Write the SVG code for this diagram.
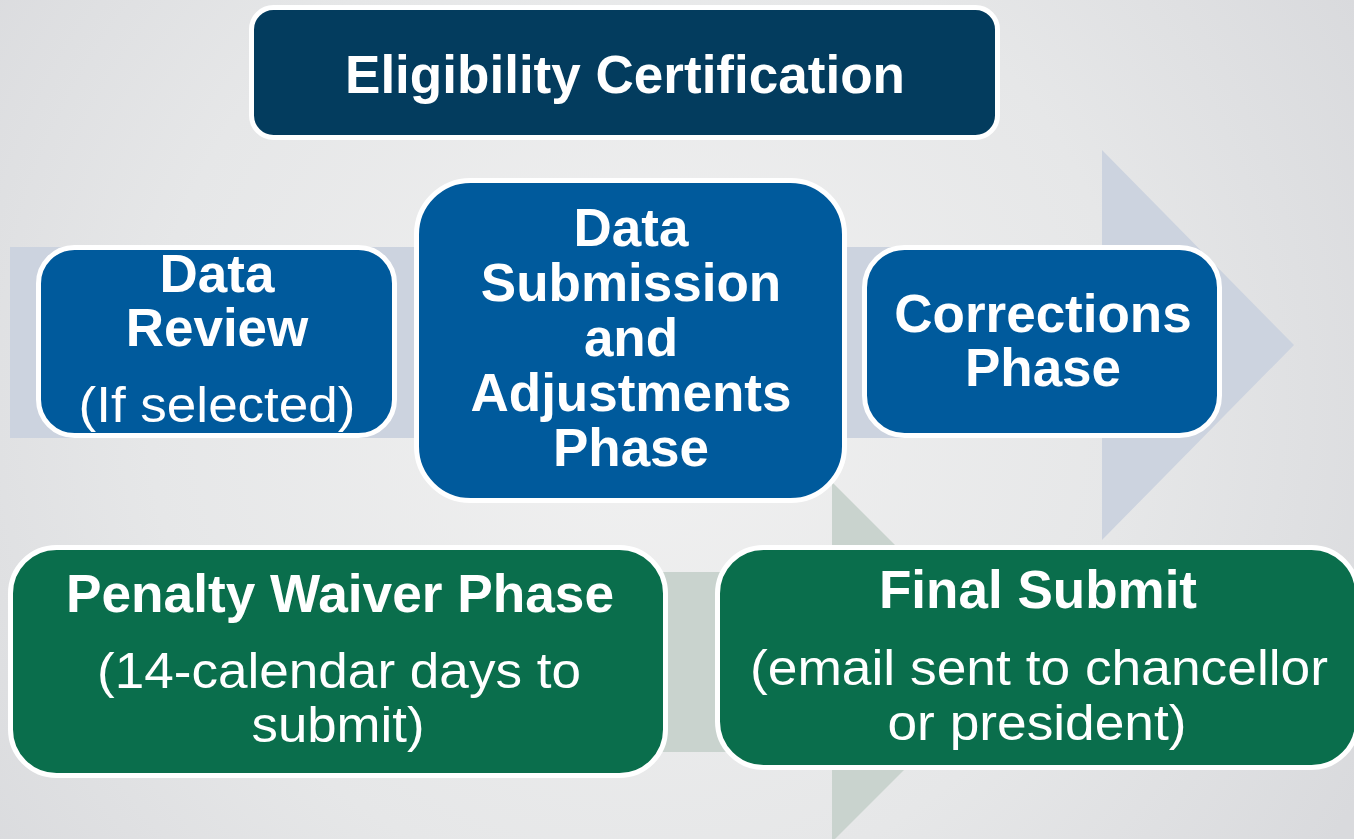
<svg xmlns="http://www.w3.org/2000/svg" width="1354" height="839" viewBox="0 0 1354 839">
  <defs>
    <radialGradient id="bg" cx="640" cy="400" r="820" gradientUnits="userSpaceOnUse">
      <stop offset="0" stop-color="#f1f1f1"/>
      <stop offset="0.6" stop-color="#e6e7e8"/>
      <stop offset="1" stop-color="#d9dadd"/>
    </radialGradient>
    <style>
      .box { stroke: #ffffff; stroke-width: 5; }
      .navy { fill: #033c5e; }
      .blue { fill: #005a9c; }
      .green { fill: #0a6e4c; }
      .t { fill: #ffffff; font-family: "Liberation Sans", Arial, sans-serif; text-anchor: middle; }
      .b { font-weight: bold; font-size: 53px; }
      .r { font-weight: normal; font-size: 50px; }
      .flowBlue { fill: #ccd3df; }
      .flowGreen { fill: #c9d3ce; }
    </style>
  </defs>

  <!-- backdrop -->
  <rect x="0" y="0" width="1354" height="839" fill="url(#bg)"/>

  <!-- flow arrows behind the phases -->
  <g id="connectors">
    <path class="flowBlue" d="M10 247 H1102 V150 L1294 345 L1102 540 V438 H10 Z"/>
    <path class="flowGreen" d="M20 572 H832 V482 L1012 662 L832 842 V752 H20 Z"/>
  </g>

  <g id="eligibility">
    <rect class="box navy" x="251.5" y="7.5" width="746" height="130" rx="22"/>
    <text class="t b" x="625" y="93" textLength="560" lengthAdjust="spacingAndGlyphs">Eligibility Certification</text>
  </g>

  <g id="data-review">
    <rect class="box blue" x="38.5" y="247.5" width="356" height="188" rx="36"/>
    <text class="t b" x="217" y="292">Data</text>
    <text class="t b" x="217" y="346">Review</text>
    <text class="t r" x="217" y="422" textLength="277" lengthAdjust="spacingAndGlyphs">(If selected)</text>
  </g>

  <g id="data-submission">
    <rect class="box blue" x="416.5" y="180.5" width="428" height="320" rx="54"/>
    <text class="t b" x="631" y="246">Data</text>
    <text class="t b" x="631" y="301">Submission</text>
    <text class="t b" x="631" y="356">and</text>
    <text class="t b" x="631" y="411">Adjustments</text>
    <text class="t b" x="631" y="466">Phase</text>
  </g>

  <g id="corrections">
    <rect class="box blue" x="864.5" y="247.5" width="355" height="188" rx="40"/>
    <text class="t b" x="1043" y="332">Corrections</text>
    <text class="t b" x="1043" y="386">Phase</text>
  </g>

  <g id="penalty-waiver">
    <rect class="box green" x="10.5" y="547.5" width="655" height="228" rx="46"/>
    <text class="t b" x="340" y="612" textLength="548" lengthAdjust="spacingAndGlyphs">Penalty Waiver Phase</text>
    <text class="t r" x="339" y="688" textLength="484" lengthAdjust="spacingAndGlyphs">(14-calendar days to</text>
    <text class="t r" x="338" y="742" textLength="173" lengthAdjust="spacingAndGlyphs">submit)</text>
  </g>

  <g id="final-submit">
    <rect class="box green" x="717.5" y="547.5" width="640" height="220" rx="46"/>
    <text class="t b" x="1038" y="608">Final Submit</text>
    <text class="t r" x="1039" y="685" textLength="578" lengthAdjust="spacingAndGlyphs">(email sent to chancellor</text>
    <text class="t r" x="1037" y="740" textLength="299" lengthAdjust="spacingAndGlyphs">or president)</text>
  </g>
</svg>
